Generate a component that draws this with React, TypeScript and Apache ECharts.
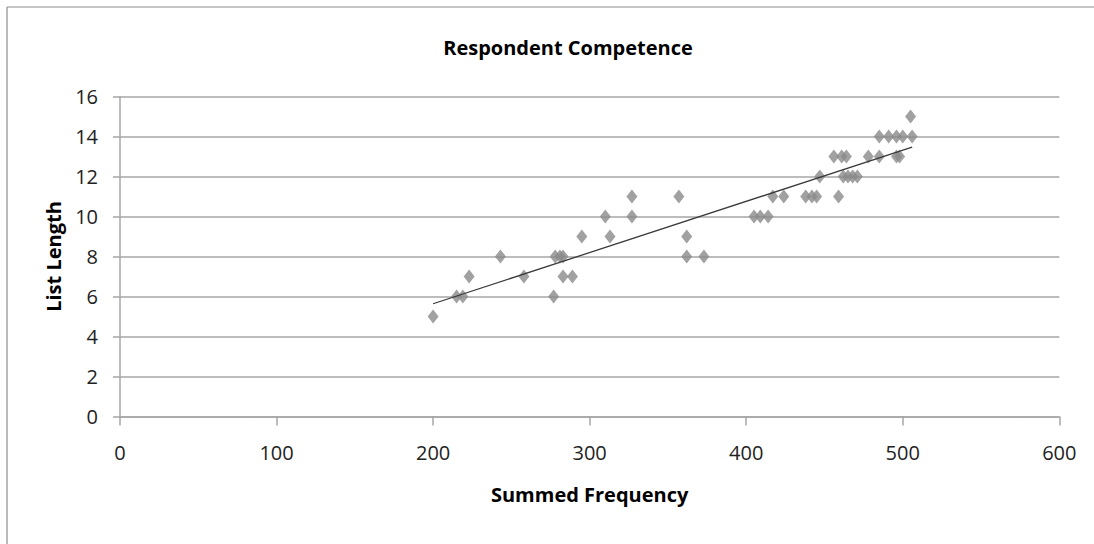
import React, { useEffect, useRef } from "react";
import * as echarts from "echarts";

const chartTitle = "Respondent Competence";
const xAxisName = "Summed Frequency";
const yAxisName = "List Length";

const summedFrequency = [
  200, 215, 219, 223, 243, 258, 277, 278, 281, 283, 283, 289, 295, 310, 313, 327,
  327, 357, 362, 362, 373, 405, 409, 414, 417, 424, 438, 442, 445, 447, 456, 459,
  461, 464, 462, 465, 468, 471, 478, 485, 485, 491, 496, 496, 498, 500, 505, 506,
];
const listLength = [
  5, 6, 6, 7, 8, 7, 6, 8, 8, 8, 7, 7, 9, 10, 9, 11,
  10, 11, 9, 8, 8, 10, 10, 10, 11, 11, 11, 11, 11, 12, 13, 11,
  13, 13, 12, 12, 12, 12, 13, 13, 14, 14, 14, 13, 13, 14, 15, 14,
];

function linearFit(xs: number[], ys: number[]) {
  const n = xs.length;
  let sx = 0, sy = 0, sxx = 0, sxy = 0;
  for (let i = 0; i < n; i++) {
    sx += xs[i]; sy += ys[i]; sxx += xs[i] * xs[i]; sxy += xs[i] * ys[i];
  }
  const slope = (n * sxy - sx * sy) / (n * sxx - sx * sx);
  const intercept = (sy - slope * sx) / n;
  return { slope, intercept };
}

export default function App() {
  const ref = useRef<HTMLDivElement>(null);
  useEffect(() => {
    if (!ref.current) return;
    const chart = echarts.init(ref.current, null, { renderer: "svg" });
    const pts = summedFrequency.map((x, i) => [x, listLength[i]]);
    const { slope, intercept } = linearFit(summedFrequency, listLength);
    const xMin = Math.min(...summedFrequency);
    const xMax = Math.max(...summedFrequency);
    const trend = [
      [xMin, intercept + slope * xMin],
      [xMax, intercept + slope * xMax],
    ];
    const font = "'Open Sans', 'Noto Sans', sans-serif";
    chart.setOption({
      animation: false,
      backgroundColor: "#ffffff",
      title: {
        text: chartTitle,
        left: 563,
        top: 32,
        textAlign: "center",
        textStyle: { fontFamily: font, fontWeight: "bold", fontSize: 20, color: "#000" },
      },
      grid: { left: 120, top: 96.5, right: 34.7, bottom: 127.5 },
      xAxis: {
        type: "value",
        min: 0,
        max: 600,
        interval: 100,
        name: xAxisName,
        nameLocation: "middle",
        nameGap: 68,
        nameTextStyle: { fontFamily: font, fontWeight: "bold", fontSize: 20, color: "#000" },
        axisLine: { show: true, lineStyle: { color: "#a6a6a6", width: 1.5 } },
        axisTick: { show: true, length: 9, lineStyle: { color: "#a6a6a6", width: 1.5 } },
        axisLabel: { margin: 26, fontFamily: font, fontSize: 20, color: "#222" },
        splitLine: { show: false },
      },
      yAxis: {
        type: "value",
        min: 0,
        max: 16,
        interval: 2,
        name: yAxisName,
        nameLocation: "middle",
        nameGap: 57,
        nameRotate: 90,
        nameTextStyle: { fontFamily: font, fontWeight: "bold", fontSize: 20, color: "#000" },
        axisLine: { show: true, lineStyle: { color: "#a6a6a6", width: 1.5 } },
        axisTick: { show: true, length: 7, lineStyle: { color: "#a6a6a6", width: 1.5 } },
        axisLabel: { margin: 22, fontFamily: font, fontSize: 20, color: "#222" },
        splitLine: { show: true, lineStyle: { color: "#a6a6a6", width: 1.5 } },
      },
      graphic: [
        { type: "line", shape: { x1: 7, y1: 7, x2: 1094, y2: 7 }, style: { stroke: "#8c8c8c", lineWidth: 1.2 } },
        { type: "line", shape: { x1: 7, y1: 7, x2: 7, y2: 544 }, style: { stroke: "#8c8c8c", lineWidth: 1.2 } },
      ],
      series: [
        {
          type: "scatter",
          data: pts,
          symbol: "diamond",
          symbolSize: [11, 14],
          itemStyle: { color: "#8a8a8a" },
          z: 2,
        },
        {
          type: "line",
          data: trend,
          symbol: "none",
          lineStyle: { color: "#3a3a3a", width: 1.3 },
          z: 3,
        },
      ],
    });
    return () => chart.dispose();
  }, []);
  return (
    <div
      ref={ref}
      style={{ position: "fixed", left: 0, top: 0, width: 1094, height: 544 }}
    />
  );
}
